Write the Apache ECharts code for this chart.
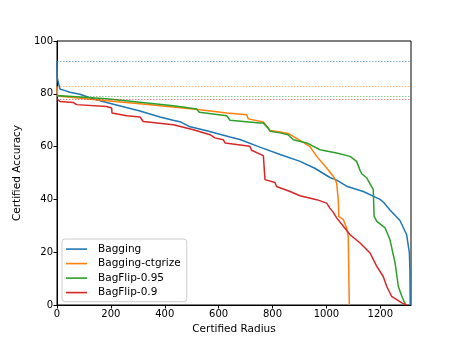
<!DOCTYPE html>
<html>
<head>
<meta charset="utf-8">
<title>Certified Accuracy</title>
<script src="https://cdn.jsdelivr.net/npm/echarts@6/dist/echarts.min.js"></script>
<style>
  html, body { margin: 0; padding: 0; background: #fff; }
  #main { width: 457px; height: 343px; }
</style>
</head>
<body>
<div id="main"></div>
<script>
// series names and colours
var names = ['Bagging', 'Bagging-ctgrize', 'BagFlip-0.95', 'BagFlip-0.9'];
var colors = ['#1f77b4', '#ff7f0e', '#2ca02c', '#d62728'];
// clean accuracy (dotted reference lines)
var cleanAcc = [92.3, 82.7, 79.2, 78.1];

var xTicks = [0, 200, 400, 600, 800, 1000, 1200];
var yTicks = [0, 20, 40, 60, 80, 100];

// [radius, accuracy]
var bagging = [
  [0, 92.3], [1, 86], [11, 81.8], [30, 81.2], [48, 80.6], [85, 79.8], [122, 78.5],
  [184, 76.7], [308, 73.5], [382, 71.2], [431, 70], [460, 69.3], [494, 67.5],
  [556, 66], [642, 63.6], [679, 62.7], [753, 59.8], [828, 57], [900, 54.5],
  [957, 51.8], [1013, 48.3], [1038, 47.3], [1075, 45], [1137, 43], [1199, 40],
  [1211, 39], [1236, 36], [1273, 32], [1298, 26.6], [1308, 19.7], [1310, 13], [1311, 0]
];
var baggingCtg = [
  [0, 82.7], [2, 79.2], [59, 78.6], [184, 77.4], [308, 76.2], [431, 75], [531, 74],
  [630, 72.7], [704, 72.1], [710, 70.5], [766, 69.3], [778, 67.7], [791, 66.1],
  [828, 65.5], [858, 65], [908, 62], [939, 60], [964, 56.3], [1001, 51.9],
  [1026, 48.7], [1038, 46.2], [1044, 39.9], [1046, 33.6], [1063, 32.3],
  [1075, 29.2], [1081, 26], [1085, 0]
];
var bagFlip95 = [
  [0, 79.4], [184, 78.1], [308, 76.8], [432, 75.5], [519, 74.2], [528, 73],
  [630, 71.7], [642, 70], [753, 68.9], [766, 68.9], [784, 67], [791, 65.8],
  [828, 65.2], [858, 64.5], [877, 62.6], [927, 61.4], [976, 58.8], [1038, 57.6],
  [1088, 56.3], [1112, 54.4], [1125, 51], [1131, 49.7], [1150, 48.1], [1174, 43.7],
  [1177, 33.6], [1187, 31.7], [1218, 29.2], [1236, 24.7], [1255, 15.9],
  [1267, 7], [1280, 3.3], [1294, 0]
];
var bagFlip90 = [
  [0, 78.1], [11, 77.1], [61, 76.7], [73, 75.9], [184, 75.2], [203, 74.6],
  [204, 72.7], [259, 71.7], [308, 71.2], [320, 69.5], [432, 68.3], [506, 66.4],
  [568, 64.5], [586, 63.3], [617, 62.6], [624, 61.4], [716, 60.1], [722, 58.6],
  [766, 56.6], [772, 47.5], [809, 46.4], [815, 44.9], [865, 43], [902, 41.4],
  [964, 39.9], [1001, 38.6], [1013, 36.7], [1026, 35], [1038, 33], [1063, 29.8],
  [1088, 26.6], [1125, 23.5], [1162, 19.7], [1187, 14.6], [1211, 10.8],
  [1224, 7], [1242, 3.3], [1280, 0.8], [1298, 0]
];
var allData = [bagging, baggingCtg, bagFlip95, bagFlip90];

var font = 'DejaVu Sans';
var series = [];
for (var i = 0; i < names.length; i++) {
  series.push({
    name: names[i],
    type: 'line',
    data: allData[i],
    symbol: 'none',
    lineStyle: { width: 1.5, color: colors[i] },
    itemStyle: { color: colors[i] },
    animation: false,
    markLine: {
      silent: true,
      symbol: 'none',
      label: { show: false },
      lineStyle: { type: [1.5, 1.5], width: 0.8, color: colors[i], opacity: 0.7 },
      data: [{ yAxis: cleanAcc[i] }]
    }
  });
}

var myChart = echarts.init(document.getElementById('main'));
myChart.setOption({
  animation: false,
  textStyle: { fontFamily: font },
  grid: {
    left: 57, right: 46, top: 41, bottom: 38,
    show: true, borderColor: '#000', borderWidth: 1
  },
  legend: {
    orient: 'vertical',
    left: 62, top: 239,
    data: names,
    icon: 'rect',
    itemWidth: 21, itemHeight: 1.6, itemGap: 2.3,
    padding: [4, 6, 3, 4],
    backgroundColor: '#fff',
    borderColor: '#ccc', borderWidth: 1, borderRadius: 3,
    textStyle: { fontFamily: font, fontSize: 10.5, color: '#000', padding: [0, 0, 0, 6], lineHeight: 12.2 }
  },
  xAxis: {
    type: 'value',
    min: 0, max: 1314,
    name: 'Certified Radius',
    nameLocation: 'middle',
    nameGap: 19,
    nameTextStyle: { fontFamily: font, fontSize: 10.5, color: '#000' },
    axisLine: { lineStyle: { color: '#000', width: 1 } },
    axisTick: { show: true, length: 3.5, customValues: xTicks, lineStyle: { color: '#000' } },
    axisLabel: {
      customValues: xTicks, fontFamily: font, fontSize: 10, color: '#000', margin: 4,
      formatter: function (v) { return String(v); }
    },
    splitLine: { show: false }
  },
  yAxis: {
    type: 'value',
    min: 0, max: 100, interval: 20,
    name: 'Certified Accuracy',
    nameLocation: 'middle',
    nameGap: 21,
    nameTextStyle: { fontFamily: font, fontSize: 10.5, color: '#000' },
    axisLine: { show: true, lineStyle: { color: '#000', width: 1 } },
    axisTick: { show: true, length: 3.5, customValues: yTicks, lineStyle: { color: '#000' } },
    axisLabel: { customValues: yTicks, fontFamily: font, fontSize: 10, color: '#000', margin: 4 },
    splitLine: { show: false }
  },
  series: series
});
</script>
</body>
</html>
